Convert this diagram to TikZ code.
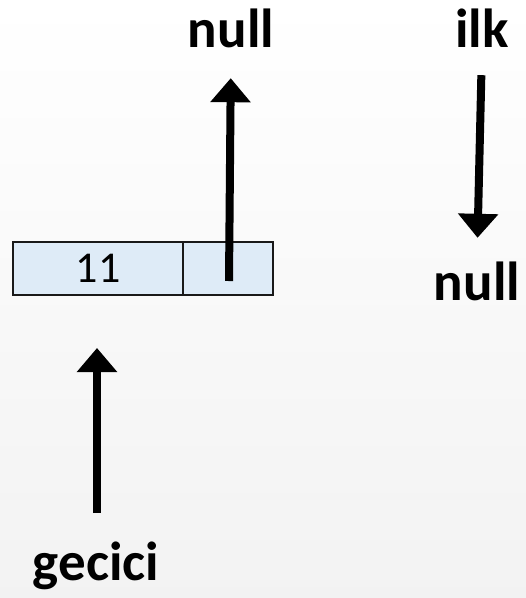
\documentclass[tikz,border=0pt]{standalone}
\usepackage{fontspec}
\setmainfont{Carlito}
\usetikzlibrary{positioning,arrows.meta}
\definecolor{cellfill}{RGB}{222,235,247}
\tikzset{
	cell/.style={draw=black!90, line width=1.5pt, fill=cellfill, minimum height=53pt, outer sep=0pt, inner sep=0pt, font=\fontsize{44}{48}\selectfont},
	lbl/.style={font=\bfseries\fontsize{55}{60}\selectfont, inner sep=0pt, text height=38pt, text depth=0pt, anchor=base},
	ptr/.style={line width=8pt, -{Triangle[width=39pt,length=24pt]}}
}
\begin{document}
\begin{tikzpicture}[x=1pt,y=-1pt]
		% Background
		\shade[top color=white, bottom color=black!5] (0,0) rectangle (526,598);
		\useasboundingbox (0,0) rectangle (526,598);
		
		% Node of the list
		\node[cell, minimum width=170pt] (data) at (98,268.5) {11};
		\node[cell, minimum width=90pt, right=0pt of data] (link) {};
		
		% Labels
		\node[lbl] (nulltop) at (231,47) {null};
		\node[lbl] (ilk) at (482,47) {ilk};
		\node[lbl] (nullright) at (477,300) {null};
		\node[lbl] (gecici) at (96,580) {gecici};
		
		% Pointers
		\coordinate (ptr) at (229,281);
		\coordinate (gtail) at (97,513);
		\draw[ptr] (ptr) -- (nulltop.south) [shorten >=31pt];
		\draw[ptr, shorten <=28pt, shorten >=24pt] (ilk.south) -- (nullright.north);
		\draw[ptr, shorten >=53pt] (gtail) -- (gtail |- data.south);
	\end{tikzpicture}
\end{document}
